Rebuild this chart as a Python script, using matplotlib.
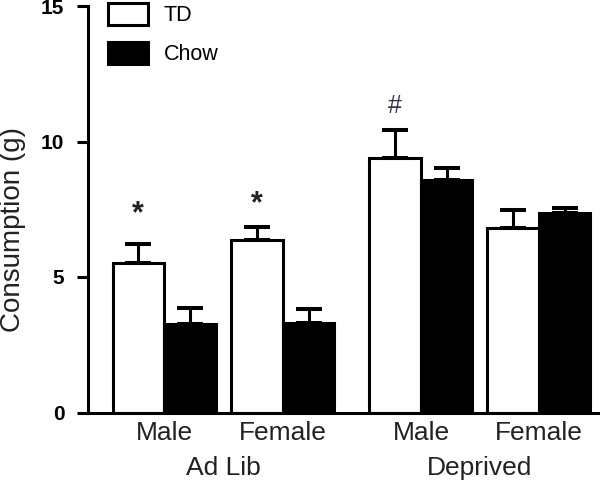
import numpy as np
import matplotlib
matplotlib.use("Agg")
import matplotlib.pyplot as plt

plt.rcParams['font.family'] = ['Liberation Sans', 'DejaVu Sans']

# data
sexes = ['Male', 'Female', 'Male', 'Female']
conditions = ['Ad Lib', 'Deprived']
td_mean = [5.53, 6.36, 9.39, 6.80]
td_sem = [0.70, 0.50, 1.05, 0.66]
chow_mean = [3.27, 3.30, 8.59, 7.36]
chow_sem = [0.59, 0.52, 0.44, 0.19]
sig_marks = ['*', '*', '#']
sig_height = [7.3, 7.7, 11.3]

# layout
pos = np.array([0, 2.31, 4.99, 7.28])
w = 1.0
lw = 2.2
txt = '#222222'

fig = plt.figure(figsize=(6, 4.87), dpi=100)
ax = fig.add_axes([88/600, 1 - 412.5/487, 512/600, 406.5/487])

err_kw = dict(ecolor='black', elinewidth=lw, capsize=9.7, capthick=2.9)
ax.bar(pos - w/2, td_mean, w, yerr=[np.zeros(4), td_sem], color='white',
       edgecolor='black', linewidth=lw, error_kw=err_kw, label='TD', zorder=2)
ax.bar(pos + w/2, chow_mean, w, yerr=[np.zeros(4), chow_sem], color='black',
       edgecolor='black', linewidth=lw, error_kw=err_kw, label='Chow', zorder=2)

for i, m in enumerate(sig_marks):
    if m == '*':
        ax.text(pos[i] - w/2, sig_height[i], m, ha='center', va='center',
                fontsize=22, fontweight='bold', color=txt)
    else:
        ax.text(pos[i] - w/2, sig_height[i], m, ha='center', va='center',
                fontsize=18, color='#333344')

ax.set_xlim(-1.476, 8.466)
ax.set_ylim(0, 15)
ax.set_yticks([0, 5, 10, 15])
ax.set_yticklabels(['0', '5', '10', '15'], fontweight='bold', fontsize=15)
ax.tick_params(axis='y', length=8, width=lw, pad=9, colors='black')
ax.set_xticks(pos)
ax.set_xticklabels(sexes, fontsize=19, color=txt)
ax.tick_params(axis='x', length=0, pad=6)

for k, c in enumerate(conditions):
    mid = (pos[2*k] + pos[2*k + 1]) / 2
    ax.annotate(c, xy=(mid, 0), xycoords=('data', 'axes fraction'),
                xytext=(0, -31), textcoords='offset points',
                ha='center', va='top', fontsize=19, color=txt)

for s in ['top', 'right']:
    ax.spines[s].set_visible(False)
for s in ['left', 'bottom']:
    ax.spines[s].set_linewidth(lw)

fig.text(0.5/600, 1 - 230/487, 'Consumption (g)', rotation=90, ha='left',
         va='center', fontsize=20, color=txt)

ax.legend(loc='upper left', bbox_to_anchor=(0.039, 1.008), frameon=False,
          fontsize=15.5, handlelength=1.85, handleheight=1.2, labelspacing=0.75,
          handletextpad=0.75, borderpad=0, borderaxespad=0)

fig.savefig('out.png', dpi=100)
